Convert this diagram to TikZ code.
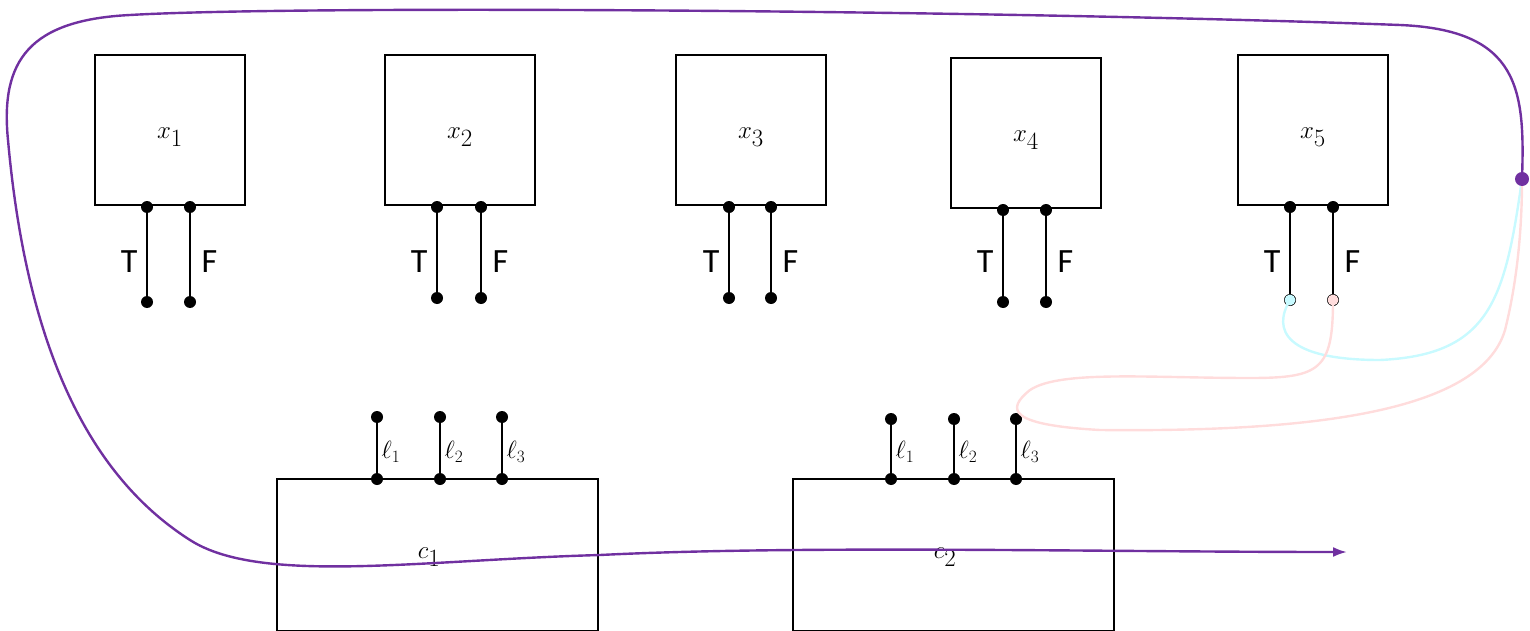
\documentclass[tikz,border=0pt]{standalone}
\usepackage{fontspec}
\setsansfont{Carlito}
\usetikzlibrary{arrows.meta}
\begin{document}
\begin{tikzpicture}[x=1pt,y=-1pt,
  bx/.style={draw,line width=2.4pt},
  pin/.style={line width=2.2pt},
  dot/.style={circle,fill=black,inner sep=0pt,minimum size=12pt},
  tf/.style={font=\sffamily\fontsize{34}{34}\selectfont},
  lab/.style={font=\fontsize{36}{36}\selectfont},
  ll/.style={font=\fontsize{26}{26}\selectfont,anchor=west}]
\useasboundingbox (0,0) rectangle (1530,631);
\definecolor{pur}{RGB}{112,48,160}
\definecolor{cy}{RGB}{200,250,255}
\definecolor{pk}{RGB}{255,220,220}
% variable boxes
\foreach \n/\l/\t/\a/\b/\bot in {1/95/55/147/190/302,2/385/55/437/481/298,3/676/55/729/771/298,4/951/58/1003/1046/302,5/1238/55/1290/1333/300}{
  \draw[bx] (\l,\t) rectangle ++(150,150);
  \node[lab] (x\n) at (\l+75,\t+82) {$x_{\n}$};
  \node[dot] (ta\n) at (\a,\t+152) {};
  \node[dot] (fa\n) at (\b,\t+152) {};
  \node[dot] (tb\n) at (\a,\bot) {};
  \node[dot] (fb\n) at (\b,\bot) {};
  \draw[pin] (ta\n.center) -- (tb\n.center);
  \draw[pin] (fa\n.center) -- (fb\n.center);
  \node[tf,anchor=east] (T\n) at (\a-6,262) {T};
  \node[tf,anchor=west] (F\n) at (\b+8,262) {F};
}
% clause boxes
\foreach \n/\l/\p/\q/\r/\tp in {1/277/377/440/502/417,2/793/891/954/1016/419}{
  \draw[bx] (\l,479) rectangle ++(321,152);
  \node[lab] (c\n) at (\l+152,557) {$c_{\n}$};
  \foreach \x/\k in {\p/1,\q/2,\r/3}{
    \node[dot] (cb\n\k) at (\x,479) {};
    \node[dot] (ct\n\k) at (\x,\tp) {};
    \draw[pin] (cb\n\k.center) -- (ct\n\k.center);
    \node[ll] (l\n\k) at (\x+1,452) {$\ell_{\k}$};
  }
}
\coordinate (hub) at (1522,179);
\coordinate (arr) at (1347,552);
% cyan
\draw[cy,line width=2.4pt] (tb5.center) .. controls (1272,330) and (1285,360) .. (1380,360)
  .. controls (1490,355) and (1505,300) .. (hub);
\node[circle,fill=cy,inner sep=0pt,minimum size=11pt] at (tb5) {};
% pink
\draw[pk,line width=2.4pt] (fb5.center) .. controls (1333,370) and (1320,378) .. (1250,378)
  .. controls (1150,378) and (1060,370) .. (1030,390)
  .. controls (1005,410) and (1010,425) .. (1100,430)
  .. controls (1300,432) and (1480,415) .. (1505,330)
  .. controls (1515,290) and (1522,240) .. (hub);
\node[circle,fill=pk,inner sep=0pt,minimum size=11pt] at (fb5) {};
% purple
\draw[pur,line width=2.4pt,-{Latex[length=14pt,width=10pt]}] (hub) .. controls (1525,90) and (1520,30) .. (1400,25)
  .. controls (1000,10) and (300,5) .. (130,15)
  .. controls (30,20) and (0,60) .. (8,140)
  .. controls (25,330) and (80,470) .. (190,540)
  .. controls (260,585) and (420,560) .. (600,555)
  .. controls (800,545) and (1100,552) .. (arr);
\node[circle,fill=pur,inner sep=0pt,minimum size=14pt] at (hub) {};
\end{tikzpicture}
\end{document}
